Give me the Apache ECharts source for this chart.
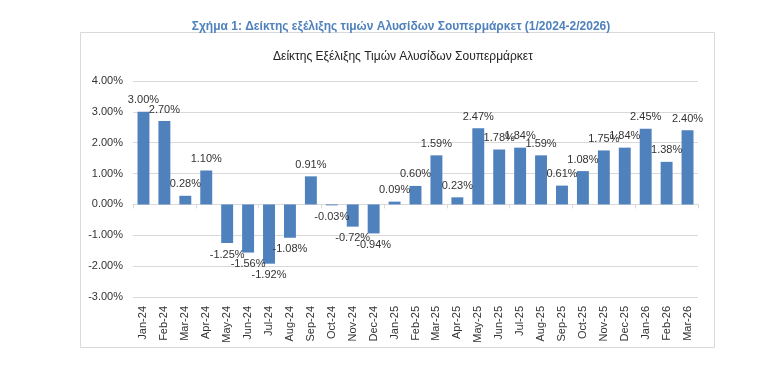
<!DOCTYPE html>
<html><head><meta charset="utf-8">
<script src="https://cdn.jsdelivr.net/npm/echarts@6/dist/echarts.min.js"></script>
<style>html,body{margin:0;padding:0;background:#fff}#c{width:782px;height:368px}</style>
</head><body><div id="c"></div>
<script>
const categories = ["Jan-24","Feb-24","Mar-24","Apr-24","May-24","Jun-24","Jul-24","Aug-24","Sep-24","Oct-24","Nov-24","Dec-24","Jan-25","Feb-25","Mar-25","Apr-25","May-25","Jun-25","Jul-25","Aug-25","Sep-25","Oct-25","Nov-25","Dec-25","Jan-26","Feb-26","Mar-26"];
const values = [3.00,2.70,0.28,1.10,-1.25,-1.56,-1.92,-1.08,0.91,-0.03,-0.72,-0.94,0.09,0.60,1.59,0.23,2.47,1.78,1.84,1.59,0.61,1.08,1.75,1.84,2.45,1.38,2.40];
const outerTitle = "Σχήμα 1: Δείκτης εξέλιξης τιμών Αλυσίδων Σουπερμάρκετ (1/2024-2/2026)";
const innerTitle = "Δείκτης Εξέλιξης Τιμών Αλυσίδων Σουπερμάρκετ";
const yMin = -3, yMax = 4, yStep = 1;

const chart = echarts.init(document.getElementById('c'), null, {renderer:'canvas'});
const fnt = "'Liberation Sans Narrow','Liberation Sans',Arial,sans-serif";
chart.setOption({
  animation:false,
  backgroundColor:'#fff',
  title:[
    {text:outerTitle,left:396,textAlign:'center',top:16,textStyle:{fontFamily:"'Liberation Sans',Arial,sans-serif",fontSize:12,fontWeight:'bold',color:'#4F81BD'}},
    {text:innerTitle,left:398,textAlign:'center',top:46,textStyle:{fontFamily:fnt,fontSize:12,fontWeight:'normal',color:'#222'}}
  ],
  graphic:[{type:'rect',shape:{x:80.5,y:32.5,width:634,height:315},style:{fill:'none',stroke:'#d9d9d9',lineWidth:1},z:-1}],
  grid:{left:133,right:84,top:81,bottom:71},
  xAxis:[
    {type:'category',data:categories,axisLine:{onZero:true,lineStyle:{color:'#d9d9d9'}},axisTick:{show:true,alignWithLabel:false,length:4,lineStyle:{color:'#d9d9d9'}},axisLabel:{show:false},splitLine:{show:false}},
    {type:'category',data:categories,position:'bottom',axisLine:{show:false,onZero:false},axisTick:{show:false},axisLabel:{rotate:90,margin:9,fontFamily:fnt,fontSize:11,color:'#333',interval:0}}
  ],
  yAxis:{type:'value',min:yMin,max:yMax,interval:yStep,axisLine:{show:false},axisTick:{show:false},
    splitLine:{lineStyle:{color:'#d9d9d9'}},
    axisLabel:{formatter:v=>v.toFixed(2)+'%',fontFamily:fnt,fontSize:11,color:'#333',margin:10}},
  series:[{type:'bar',xAxisIndex:0,barWidth:'57%',itemStyle:{color:'#4F81BD'},
    data:values.map(v=>({value:v,label:{position:v<0?'bottom':'top'}})),
    label:{show:true,distance:6,formatter:p=>p.value.toFixed(2)+'%',fontFamily:fnt,fontSize:11,color:'#333'}}]
});
</script></body></html>
